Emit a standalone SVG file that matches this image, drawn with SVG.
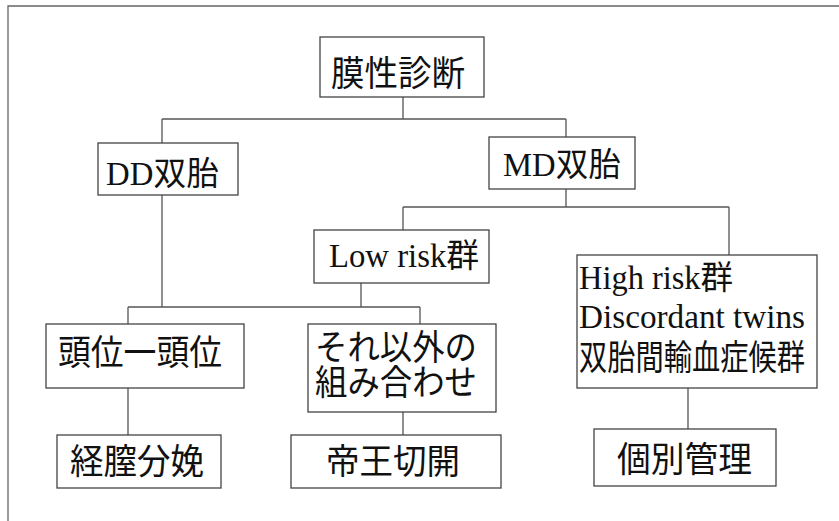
<svg xmlns="http://www.w3.org/2000/svg" width="839" height="521" viewBox="0 0 839 521">
<style>
.box{fill:#fff;stroke:#444;stroke-width:1.3}
.frame{fill:none;stroke:#666;stroke-width:1.3}
.conn{fill:none;stroke:#555;stroke-width:1.3}
.jp{font-family:"Noto Sans CJK JP","Noto Sans",sans-serif;font-size:35px;fill:#111}
.mx{font-family:"Liberation Serif","Noto Sans CJK JP",serif;font-size:33px;fill:#111}
</style>
<rect width="839" height="521" fill="#fff"/>
<path class="frame" d="M8,521 V6 H845"/>
<g id="connectors">
<path class="conn" d="M403,97 V119 M162,119 H566 M162,119 V143 M566,119 V137"/>
<path class="conn" d="M566,189 V207 M403,207 H729 M403,207 V230 M729,207 V255"/>
<path class="conn" d="M162,195 V307 M361,283 V307 M128,307 H420 M128,307 V324 M420,307 V324"/>
<path class="conn" d="M128,388 V435 M403,412 V435 M688,388 V429"/>
</g>
<g id="n1"><rect class="box" x="320" y="37" width="164" height="60"/><text class="jp" x="331" y="86" font-size="40" textLength="134" lengthAdjust="spacingAndGlyphs">膜性診断</text></g>
<g id="n2"><rect class="box" x="98" y="143" width="140" height="52"/><text class="mx" x="106" y="185" textLength="113" lengthAdjust="spacingAndGlyphs">DD双胎</text></g>
<g id="n3"><rect class="box" x="489" y="137" width="146" height="52"/><text class="mx" x="503" y="176" textLength="118" lengthAdjust="spacingAndGlyphs">MD双胎</text></g>
<g id="n4"><rect class="box" x="314" y="230" width="175" height="53"/><text class="mx" x="329" y="267" textLength="150" lengthAdjust="spacingAndGlyphs">Low risk群</text></g>
<g id="n5"><rect class="box" x="577" y="255" width="240" height="133"/>
<text class="mx" x="579" y="289" font-size="32" textLength="154" lengthAdjust="spacingAndGlyphs">High risk群</text>
<text class="mx" x="579" y="328" font-size="32" textLength="226" lengthAdjust="spacingAndGlyphs">Discordant twins</text>
<text class="jp" x="579" y="370" font-size="30" textLength="226" lengthAdjust="spacingAndGlyphs">双胎間輸血症候群</text></g>
<g id="n6"><rect class="box" x="46" y="324" width="198" height="64"/><text class="jp" x="58" y="365" textLength="164" lengthAdjust="spacingAndGlyphs">頭位一頭位</text></g>
<g id="n7"><rect class="box" x="308" y="324" width="188" height="88"/>
<text class="jp" x="315" y="360" font-size="33" textLength="162" lengthAdjust="spacingAndGlyphs">それ以外の</text>
<text class="jp" x="315" y="395" font-size="33" textLength="162" lengthAdjust="spacingAndGlyphs">組み合わせ</text></g>
<g id="n8"><rect class="box" x="57" y="435" width="164" height="53"/><text class="jp" x="70" y="474" textLength="134" lengthAdjust="spacingAndGlyphs">経膣分娩</text></g>
<g id="n9"><rect class="box" x="291" y="435" width="210" height="53"/><text class="jp" x="326" y="474" textLength="134" lengthAdjust="spacingAndGlyphs">帝王切開</text></g>
<g id="n10"><rect class="box" x="594" y="429" width="182" height="57"/><text class="jp" x="617" y="472" textLength="135" lengthAdjust="spacingAndGlyphs">個別管理</text></g>
</svg>
